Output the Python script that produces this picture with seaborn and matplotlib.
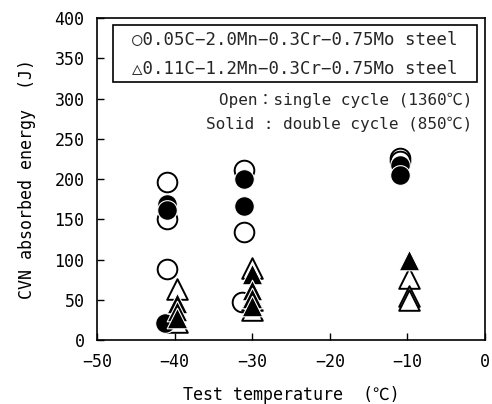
import matplotlib
matplotlib.use("Agg")
import matplotlib.pyplot as plt
from matplotlib.patches import Rectangle
import seaborn as sns

sns.set_theme(style="white")
plt.rcParams['font.family'] = ['DejaVu Sans Mono', 'Noto Sans CJK JP', 'DejaVu Sans']

# steel A: 0.05C-2.0Mn-0.3Cr-0.75Mo, steel B: 0.11C-1.2Mn-0.3Cr-0.75Mo
a_open_t = [-41, -41, -41, -31, -31, -31.3, -11, -11]
a_open_e = [196, 151, 89, 212, 134, 47, 226, 223]
a_solid_t = [-41, -41, -41.2, -31, -31, -11, -11]
a_solid_e = [169, 162, 21, 200, 167, 218, 205]
b_open_t = [-39.7, -39.7, -30, -30, -30, -9.8, -9.8, -9.8]
b_open_e = [64, 22, 90, 50, 38, 77, 55, 50]
b_solid_t = [-39.7, -39.7, -39.7, -30, -30, -30, -30, -9.8]
b_solid_e = [46, 36, 28, 82, 62, 52, 42, 99]

x_ticks = [-50, -40, -30, -20, -10, 0]
y_ticks = [0, 50, 100, 150, 200, 250, 300, 350, 400]

fig = plt.figure(figsize=(4.92, 4.04), dpi=100)
ax = fig.add_axes([0.197, 0.158, 0.789, 0.797])

ms = 200
sns.scatterplot(x=a_open_t, y=a_open_e, marker='o', s=ms, facecolor='white',
                edgecolor='black', linewidth=1.4, ax=ax, zorder=3)
sns.scatterplot(x=b_open_t, y=b_open_e, marker='^', s=ms * 1.1, facecolor='white',
                edgecolor='black', linewidth=1.4, ax=ax, zorder=3)
sns.scatterplot(x=a_solid_t, y=a_solid_e, marker='o', s=ms, facecolor='black',
                edgecolor='white', linewidth=0.8, ax=ax, zorder=4)
sns.scatterplot(x=b_solid_t, y=b_solid_e, marker='^', s=ms * 1.1, facecolor='black',
                edgecolor='white', linewidth=0.8, ax=ax, zorder=4)

ax.set_xlim(-50, 0)
ax.set_ylim(0, 400)
ax.set_xticks(x_ticks)
ax.set_yticks(y_ticks)
ax.set_xticklabels([str(v).replace('-', '\u2212') for v in x_ticks], fontsize=12)
ax.set_yticklabels([str(v) for v in y_ticks], fontsize=12)
ax.tick_params(direction='in', length=5, width=1, colors='black')
ax.tick_params(axis='x', pad=9)
ax.tick_params(axis='y', pad=9)
ax.tick_params(axis='both', which='both', bottom=True, left=True)
for sp in ax.spines.values():
    sp.set_color('black')
    sp.set_linewidth(1.2)

ax.set_xlabel('Test temperature  (℃)', fontsize=12, color='black', labelpad=11)
ax.set_ylabel('CVN absorbed energy  (J)', fontsize=12, color='black', labelpad=13)

ax.add_patch(Rectangle((0.041, 0.801), 0.938, 0.177, transform=ax.transAxes,
                       facecolor='white', edgecolor='black', linewidth=1.2, zorder=5))
ax.text(0.51, 0.932, '○0.05C\u22122.0Mn\u22120.3Cr\u22120.75Mo steel',
        transform=ax.transAxes, ha='center', va='center', fontsize=12.5, zorder=6)
ax.text(0.51, 0.845, '△0.11C\u22121.2Mn\u22120.3Cr\u22120.75Mo steel',
        transform=ax.transAxes, ha='center', va='center', fontsize=12.5, zorder=6)
ax.text(0.966, 0.745, 'Open：single cycle (1360℃)',
        transform=ax.transAxes, ha='right', va='center', fontsize=11.5)
ax.text(0.966, 0.671, 'Solid : double cycle (850℃)',
        transform=ax.transAxes, ha='right', va='center', fontsize=11.5)

fig.savefig('out.png', dpi=100)
